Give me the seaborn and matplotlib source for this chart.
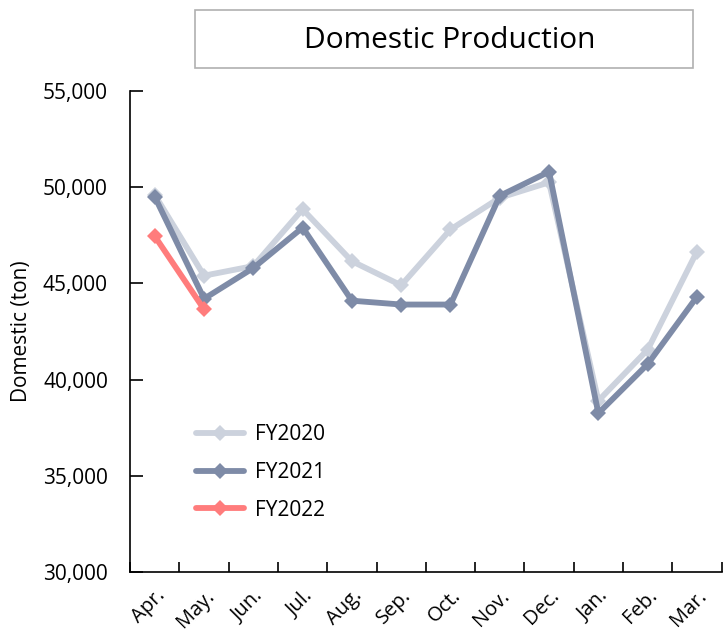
import matplotlib
matplotlib.use('Agg')
import matplotlib.pyplot as plt
from matplotlib.patches import Rectangle
import pandas as pd
import seaborn as sns

months = ['Apr.', 'May.', 'Jun.', 'Jul.', 'Aug.', 'Sep.', 'Oct.', 'Nov.', 'Dec.', 'Jan.', 'Feb.', 'Mar.']
fy2020 = [49600, 45400, 45900, 48850, 46150, 44900, 47800, 49450, 50250, 38900, 41550, 46650]
fy2021 = [49500, 44200, 45800, 47900, 44100, 43900, 43900, 49550, 50800, 38250, 40800, 44300]
fy2022 = [47450, 43650]
series = ['FY2020', 'FY2021', 'FY2022']
colors = ['#ccd2dd', '#7e8ba7', '#ff7c7c']

rows = []
for name, vals in zip(series, [fy2020, fy2021, fy2022]):
    for m, v in zip(months, vals):
        rows.append({'month': m, 'value': v, 'fy': name})
df = pd.DataFrame(rows)
df['pos'] = df['month'].map({m: i for i, m in enumerate(months)})

sns.set_style('white')
plt.rcParams['font.family'] = ['Open Sans', 'DejaVu Sans']
plt.rcParams['text.color'] = 'black'
plt.rcParams['xtick.color'] = 'black'
plt.rcParams['ytick.color'] = 'black'
plt.rcParams['axes.labelcolor'] = 'black'

fig = plt.figure(figsize=(7.23, 6.36), dpi=100)
ax = fig.add_axes([0.18, 0.1006, 0.818, 0.7564])

sns.lineplot(data=df, x='pos', y='value', hue='fy', palette=dict(zip(series, colors)),
             marker='D', markersize=8.5, markeredgewidth=0, linewidth=4.2, ax=ax)

ax.set_xlim(-0.5, 11.5)
ax.set_ylim(30000, 55000)
ax.set_yticks(range(30000, 55001, 5000))
ax.set_yticklabels([f'{v:,}' for v in range(30000, 55001, 5000)], fontsize=15)
ax.set_xticks(range(12))
ax.set_xticklabels(months, rotation=45, ha='right', rotation_mode='anchor', fontsize=14.5)
ax.set_xticks([i + 0.5 for i in range(-1, 12)], minor=True)
ax.tick_params(axis='x', which='major', length=0, pad=10)
ax.tick_params(axis='x', which='minor', direction='in', length=7, width=1.2, color='black', bottom=True)
ax.tick_params(axis='y', direction='in', length=9, width=1.2, color='black', left=True, pad=16)
ax.set_xlabel('')
ax.set_ylabel('Domestic (ton)', fontsize=15, labelpad=8)
for s in ['top', 'right']:
    ax.spines[s].set_visible(False)
for s in ['left', 'bottom']:
    ax.spines[s].set_color('black')
    ax.spines[s].set_linewidth(1.2)

leg = ax.legend(loc='lower left', bbox_to_anchor=(0.08, 0.068), frameon=False, fontsize=15,
                handlelength=2.3, handletextpad=0.5, labelspacing=0.8, title=None)

fig.patches.append(Rectangle((195 / 723, 1 - 68 / 636), 498 / 723, 58 / 636, transform=fig.transFigure,
                             facecolor='white', edgecolor='#b0b0b0', linewidth=1.2))
fig.text(450 / 723, 1 - 40 / 636, 'Domestic Production', ha='center', va='center', fontsize=21.5)

fig.savefig('out.png', dpi=100)
